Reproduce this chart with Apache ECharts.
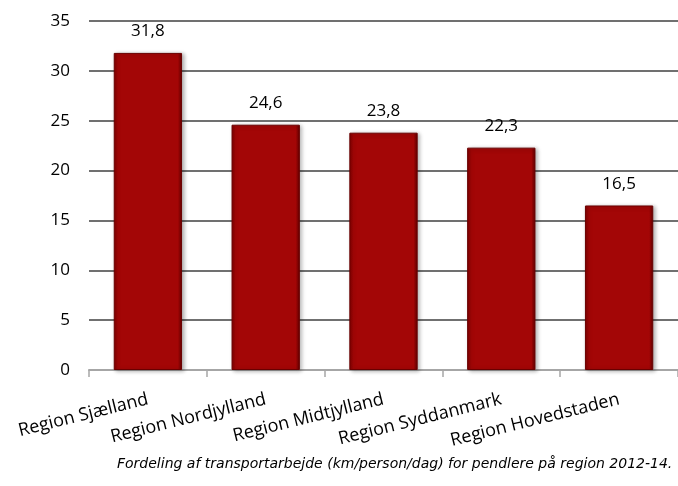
<!DOCTYPE html>
<html>
<head>
<meta charset="utf-8">
<script src="https://cdn.jsdelivr.net/npm/echarts@6/dist/echarts.min.js"></script>
<style>
  html, body { margin: 0; padding: 0; background: #fff; }
  #chart { width: 678px; height: 486px; }
</style>
</head>
<body>
<div id="chart"></div>
<script>
// regioner og km/person/dag
const regions = ['Region Sjælland', 'Region Nordjylland', 'Region Midtjylland', 'Region Syddanmark', 'Region Hovedstaden'];
const values = [31.8, 24.6, 23.8, 22.3, 16.5];
const yTicks = [0, 5, 10, 15, 20, 25, 30, 35];
const caption = 'Fordeling af transportarbejde (km/person/dag) for pendlere på region 2012-14.';

const chart = echarts.init(document.getElementById('chart'));

chart.setOption({
  animation: false,
  grid: { left: 89, top: 21, width: 591, bottom: 116 },
  xAxis: {
    type: 'category',
    data: regions,
    axisLine: { lineStyle: { color: '#a6a6a6', width: 2 } },
    axisTick: { show: true, length: 7, lineStyle: { color: '#a6a6a6', width: 1.5 } },
    axisLabel: {
      rotate: 14,
      margin: 29,
      color: '#000',
      fontFamily: 'Open Sans',
      fontSize: 18
    }
  },
  yAxis: {
    type: 'value',
    min: yTicks[0],
    max: yTicks[yTicks.length - 1],
    interval: 5,
    axisLine: { show: false },
    axisTick: { show: false },
    axisLabel: { margin: 19, color: '#000', fontFamily: 'Open Sans', fontSize: 17 },
    splitLine: { lineStyle: { color: '#404040', width: 1.5 } }
  },
  series: [{
    type: 'bar',
    data: values,
    barWidth: '58%',
    itemStyle: {
      color: new echarts.graphic.LinearGradient(0, 0, 1, 0, [
        { offset: 0, color: '#7e0000' },
        { offset: 0.06, color: '#a30606' },
        { offset: 0.94, color: '#a30606' },
        { offset: 1, color: '#5e0000' }
      ]),
      borderColor: '#6a0000',
      borderWidth: 1,
      shadowColor: 'rgba(0,0,0,0.3)',
      shadowBlur: 4,
      shadowOffsetX: 2,
      shadowOffsetY: 1
    },
    label: {
      show: true,
      position: 'top',
      distance: 13,
      color: '#000',
      fontFamily: 'Open Sans',
      fontSize: 17,
      formatter: p => p.value.toFixed(1).replace('.', ',')
    }
  }],
  graphic: [{
    type: 'text',
    left: 117,
    top: 457,
    style: {
      text: caption,
      fill: '#000',
      font: 'italic 14px "DejaVu Sans"'
    }
  }]
});
</script>
</body>
</html>
